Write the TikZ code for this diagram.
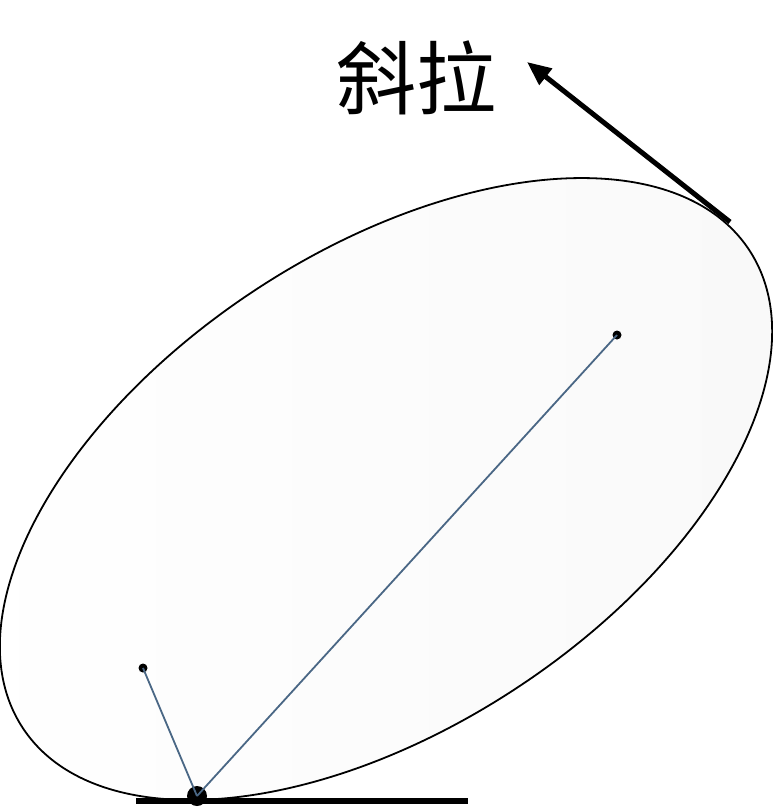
\documentclass[tikz,border=0pt]{standalone}
\usepackage{fontspec}
\newfontfamily\cjk{Noto Sans CJK SC}
\usetikzlibrary{arrows.meta,shapes.geometric}
\definecolor{linkblue}{HTML}{4A6785}
\tikzset{
  dotmark/.style={circle,fill=black,inner sep=0pt,minimum size=9pt},
  link/.style={draw=linkblue,line width=1.8pt},
  pullarrow/.style={line width=5pt,-{Triangle[length=24pt,width=20pt]}},
}
\begin{document}
\begin{tikzpicture}[x=1pt,y=1pt]
\useasboundingbox (0,0) rectangle (773,-808);
% ellipse body
\shade[left color=white,right color=black!2.5,rotate around={33.35:(386,-489)}]
  (386,-489) ellipse [x radius=434.8, y radius=238.1];
\draw[line width=1.8pt,rotate around={33.35:(386,-489)}]
  (386,-489) ellipse [x radius=434.8, y radius=238.1];
% points
\node[dotmark] (f1) at (617,-335) {};
\node[dotmark] (f2) at (143,-668) {};
\node[circle,fill=black,inner sep=0pt,minimum size=20pt] (c) at (197,-796) {};
\coordinate (g1) at (136,-801);
\coordinate (g2) at (468,-801);
\draw[line width=5.5pt] (g1) -- (g2);
\draw[link] (c.center) -- (f1.center);
\draw[link] (c.center) -- (f2.center);
% pull arrow
\coordinate (a0) at (730,-222);
\coordinate (a1) at (527,-62);
\draw[pullarrow] (a0) -- (a1);
\node[font=\cjk\fontsize{80}{80}\selectfont,inner sep=0pt] (t) at (416,-78) {斜拉};
\end{tikzpicture}
\end{document}
